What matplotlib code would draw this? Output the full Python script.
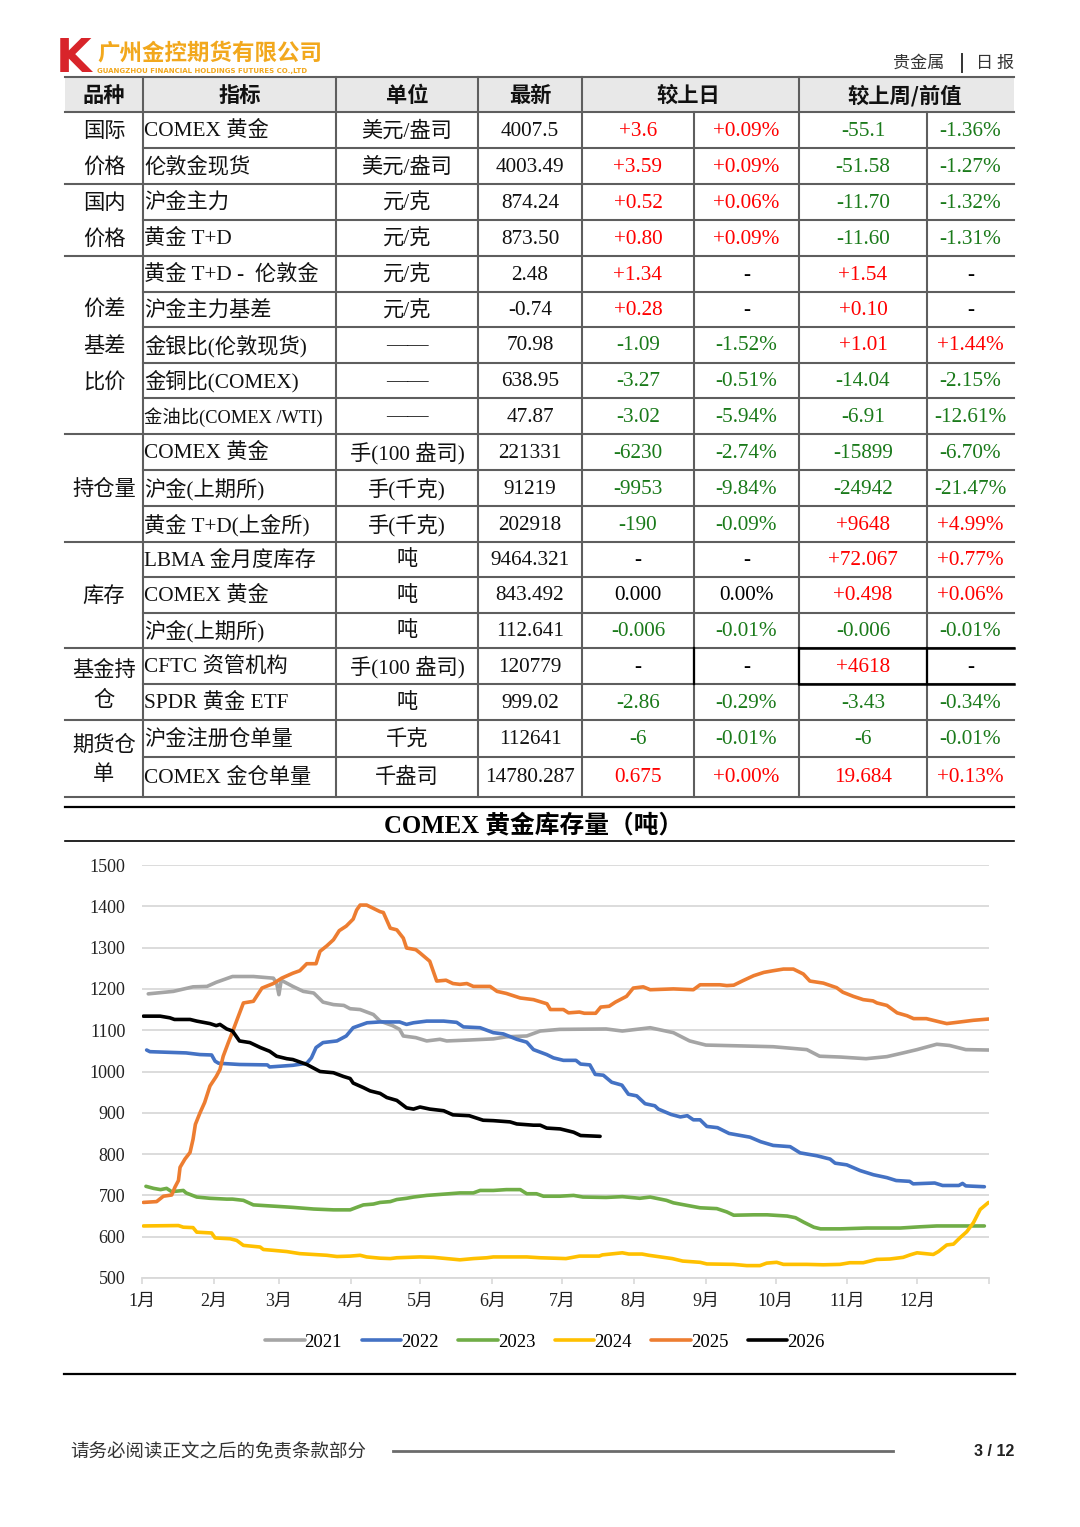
import matplotlib
matplotlib.use('Agg')
import matplotlib.pyplot as plt
from matplotlib.patches import Rectangle
from matplotlib.font_manager import FontProperties

# ---------------- data ----------------
header_cols = ["品种", "指标", "单位", "最新", "较上日", "较上周/前值"]
group_lines = [["国际", "价格"], ["国内", "价格"], ["价差", "基差", "比价"], ["持仓量"],
               ["库存"], ["基金持", "仓"], ["期货仓", "单"]]
group_sizes = [2, 2, 5, 3, 3, 2, 2]
indicators = ["COMEX 黄金", "伦敦金现货", "沪金主力", "黄金 T+D", "黄金 T+D -  伦敦金", "沪金主力基差",
              "金银比(伦敦现货)", "金铜比(COMEX)", "金油比(COMEX /WTI)", "COMEX 黄金", "沪金(上期所)",
              "黄金 T+D(上金所)", "LBMA 金月度库存", "COMEX 黄金", "沪金(上期所)", "CFTC 资管机构",
              "SPDR 黄金 ETF", "沪金注册仓单量", "COMEX 金仓单量"]
units = ["美元/盎司", "美元/盎司", "元/克", "元/克", "元/克", "元/克", "——", "——", "——",
         "手(100 盎司)", "手(千克)", "手(千克)", "吨", "吨", "吨", "手(100 盎司)", "吨", "千克", "千盎司"]
latest = ["4007.5", "4003.49", "874.24", "873.50", "2.48", "-0.74", "70.98", "638.95", "47.87",
          "221331", "91219", "202918", "9464.321", "843.492", "112.641", "120779", "999.02",
          "112641", "14780.287"]
day_chg = ["+3.6", "+3.59", "+0.52", "+0.80", "+1.34", "+0.28", "-1.09", "-3.27", "-3.02",
           "-6230", "-9953", "-190", "-", "0.000", "-0.006", "-", "-2.86", "-6", "0.675"]
day_pct = ["+0.09%", "+0.09%", "+0.06%", "+0.09%", "-", "-", "-1.52%", "-0.51%", "-5.94%",
           "-2.74%", "-9.84%", "-0.09%", "-", "0.00%", "-0.01%", "-", "-0.29%", "-0.01%", "+0.00%"]
week_chg = ["-55.1", "-51.58", "-11.70", "-11.60", "+1.54", "+0.10", "+1.01", "-14.04", "-6.91",
            "-15899", "-24942", "+9648", "+72.067", "+0.498", "-0.006", "+4618", "-3.43", "-6", "19.684"]
week_pct = ["-1.36%", "-1.27%", "-1.32%", "-1.31%", "-", "-", "+1.44%", "-2.15%", "-12.61%",
            "-6.70%", "-21.47%", "+4.99%", "+0.77%", "+0.06%", "-0.01%", "-", "-0.34%", "-0.01%", "+0.13%"]

chart_title = "COMEX 黄金库存量（吨）"
month_labels = ["1月", "2月", "3月", "4月", "5月", "6月", "7月", "8月", "9月", "10月", "11月", "12月", ""]
month_days = [0, 31, 59, 90, 120, 151, 181, 212, 243, 273, 304, 334, 365]
y_ticks = [500, 600, 700, 800, 900, 1000, 1100, 1200, 1300, 1400, 1500]

# (day of year, tonnes)
s2021 = [(2.7,1188),(13.5,1194),(22,1205),(28,1206),(32,1216),(39,1230),(48,1230),(56.6,1226),(58,1214),
         (59,1186),(60,1221),(65,1206),(69.5,1194),(74,1190),(78,1168),(82.5,1162),(87,1160),(89.7,1152),
         (94,1150),(99.7,1138),(102.6,1122),(108,1111),(111,1102),(112.6,1086),(118,1082),(122.7,1074),
         (128.4,1078),(131.3,1074),(140,1076),(151.4,1079),(157,1084),(165.8,1086),(171.6,1098),(180,1102),
         (200,1103),(207,1098),(219,1106),(229,1094),(236,1074),(243,1064),(258,1062),(272,1060),
         (286.5,1053),(292,1037),(301,1035),(312,1031),(321,1036),(328,1045),(334,1053),(342.5,1066),
         (348,1063),(355,1053),(365,1052)]
s2022 = [(2,1052),(3.4,1048),(19,1045),(25,1041),(30,1040),(31.5,1025),(33,1020),(42,1017),(54,1016),
         (55,1011),(65,1015),(71,1020),(73,1033),(75,1058),(78,1070),(84,1074),(88,1086),(91,1106),
         (97,1118),(102.6,1120),(111,1120),(114,1114),(117,1118),(122.7,1122),(130,1122),(135.6,1119),
         (138.5,1108),(145.7,1106),(151.4,1094),(155.7,1091),(161.5,1078),(165.8,1071),(168.7,1053),
         (174.4,1041),(177.3,1033),(181.6,1027),(187,1027),(189,1018),(193,1016),(195.3,993),(198.8,991),
         (202.4,974),(206.8,967),(209.6,945),(213.2,941),(216.8,922),(221,917),(222.5,909),(228,896),
         (232,890),(235,893),(237.6,883),(240.5,883),(243.4,867),(248,864),(253,850),(262,841),
         (266.6,830),(272,821),(279.3,818),(283.6,803),(290.8,796),(296.5,788),(298.7,778),(303.7,774),
         (309.5,760),(315.2,750),(321,743),(325,736),(330.8,734),(332.3,728),(341.6,730),(345,724),
         (352,724),(353.6,729),(355,723),(363,721)]
s2023 = [(1.7,722),(5,717),(8,714),(10.6,717),(12.8,709),(17.8,712),(19,706),(23.6,696),(29.3,693),
         (36.5,691),(39,691),(43.7,688),(48,677),(53.7,675),(59.5,673),(65,671),(74,667),(82.5,665),
         (89.7,665),(92.5,671),(95.4,677),(99.7,679),(102.6,683),(107,685),(109.8,690),(114,693),
         (117,696),(122.7,700),(130,703),(137,706),(142.8,706),(145.7,712),(151.4,712),(157,714),
         (163,714),(165.8,704),(170,704),(173,698),(180,698),(186,700),(190,696),(200,695),(207,697),
         (214.5,693),(219,696),(226,688),(229,682),(234.7,676),(240.5,670),(247.7,668),(252,660),
         (255,652),(263.6,653),(269.4,653),(278,650),(281.6,646),(285.2,635),(289.5,623),(292.4,619),
         (301,619),(312.4,621),(326.8,621),(335.4,624),(342.5,626),(363,626)]
s2024 = [(0.6,626),(15.7,627),(17.8,623),(22,622),(23.6,611),(30,609),(31.5,597),(38,595),(40.8,591),
         (43.7,579),(50.9,575),(52.3,569),(56.6,567),(62.4,564),(68,559),(76.7,556),(79.6,555),(84,552),
         (89.7,553),(94,555),(96.8,551),(102.6,548),(107,547),(109.8,549),(119.8,551),(125.6,550),
         (131.3,547),(137,544),(142.8,547),(148.6,549),(151.4,551),(165.8,551),(171.6,549),(182.7,547),
         (188.5,553),(197,553),(198.4,556),(207,561),(209.8,558),(215.5,558),(218.4,555),(228.5,547),
         (233,541),(240.5,538),(243.4,534),(254.8,533),(260.6,530),(266.3,530),(269.2,536),(273.5,538),
         (276.4,533),(286.5,533),(293.6,532),(300.8,533),(305,537),(310.8,537),(316.6,545),(322.3,546),
         (328,550),(331,556),(334,561),(341,557),(343.2,564),(346.8,580),(349.7,582),(352.6,598),
         (355.4,612),(358.3,634),(361.2,666),(364.8,683)]
s2025 = [(0.6,683),(6.3,685),(9.2,698),(12.8,701),(14.2,720),(15.7,736),(16.4,768),(18.5,788),(20.7,804),
         (22,836),(23,872),(25,900),(27,925),(29.3,965),(32,988),(33.6,1005),(35,1037),(37.2,1070),
         (38.6,1090),(41,1126),(43.7,1166),(48,1170),(51.7,1202),(56.6,1213),(60.2,1226),(65,1238),
         (68,1244),(71,1261),(75,1261),(76.7,1291),(79.6,1304),(82.5,1319),(85,1341),(88,1352),(91,1369),
         (92.5,1391),(94,1403),(96.8,1403),(99.7,1395),(102.6,1387),(104,1385),(107,1347),(109.8,1343),
         (112.6,1323),(114,1299),(118,1295),(119.8,1287),(124,1267),(127,1219),(131,1221),(134,1213),
         (137,1211),(140,1213),(142.8,1206),(150,1206),(153,1194),(157,1189),(163,1178),(168.7,1174),
         (174.5,1164),(176,1150),(181.6,1150),(183.8,1142),(188.5,1144),(190.6,1141),(195.5,1141),
         (197.7,1156),(201.3,1158),(204,1168),(208.8,1182),(211.7,1202),(216,1205),(219,1198),(229,1200),
         (237.6,1198),(240.5,1210),(249,1210),(252,1208),(255,1209),(259,1220),(263.6,1232),(268,1240),
         (272,1244),(276.4,1248),(280.7,1248),(285,1236),(287.8,1219),(293.6,1214),(299.3,1203),
         (302,1192),(306.5,1182),(310.8,1174),(315,1171),(316.7,1166),(321,1160),(325.4,1142),
         (329.7,1135),(332.5,1128),(338,1128),(343.8,1120),(346.8,1116),(352.6,1120),(358.3,1124),
         (364.8,1127)]
s2026 = [(0.6,1134),(7.8,1134),(12,1130),(14,1126),(20.7,1126),(23.6,1122),(29.3,1116),(32,1111),
         (33.6,1114),(36.5,1103),(39,1098),(42,1074),(46.5,1070),(51,1058),(55,1049),(58,1037),
         (62.4,1031),(65,1029),(71,1017),(76.7,1000),(82.5,997),(86.8,988),(89.7,983),(91,972),
         (95.4,961),(98.3,953),(102.6,947),(105.5,937),(109.8,930),(114,912),(117,909),(119.8,914),
         (124,909),(130,905),(134,895),(141,893),(147,882),(151.4,881),(158.6,878),(161.5,873),
         (168.7,870),(171.6,870),(174.4,863),(180.2,861),(186,853),(189,845),(197.4,843)]

series_names = ["2021", "2022", "2023", "2024", "2025", "2026"]
series_data = [s2021, s2022, s2023, s2024, s2025, s2026]
series_colors = ["#a5a5a5", "#4472c4", "#70ad47", "#ffc000", "#ed7d31", "#000000"]

# ---------------- layout ----------------
W, H = 1080, 1527
fig = plt.figure(figsize=(W / 100, H / 100), dpi=100)
ov = fig.add_axes([0, 0, 1, 1])
ov.set_xlim(0, W)
ov.set_ylim(H, 0)
ov.axis('off')

SERIF_CJK = ['Liberation Serif', 'Noto Sans CJK SC']
CJK = ['Noto Sans CJK SC', 'DejaVu Sans']
RED = '#ff0000'
GREEN = '#1a7a1a'
FS = 15.3
indicator_fs = {8: 13.2}

# logo / header
ov.text(56, 60, 'K', fontsize=33, fontweight='bold', color='#d8242a', family='DejaVu Sans',
        ha='left', va='center')
ov.text(97, 53, '广州金控期货有限公司', fontsize=16.2, fontweight='bold', color='#f2a81d',
        family=CJK, ha='left', va='center')
ov.text(97, 71.5, 'GUANGZHOU FINANCIAL HOLDINGS FUTURES CO.,LTD', fontsize=5.0, fontweight='bold',
        color='#f2a81d', family='DejaVu Sans', ha='left', va='center')
ov.text(893, 63, '贵金属', fontsize=12.3, color='#333333', family=CJK, ha='left', va='center')
ov.plot([962, 962], [54, 72], color='#333333', lw=1.4)
ov.text(1014, 63, '日 报', fontsize=12.3, color='#333333', family=CJK, ha='right', va='center')

# table geometry
X0, X1 = 65, 1014
col_x = [65, 143, 336, 478, 582, 694, 799, 927, 1014]
TOP, HB = 77, 112
edges = [112, 148, 184, 220, 256, 292, 327, 363, 398, 434, 470, 506, 542, 577, 613, 648, 684, 720, 757, 797]
LC, LW = '#5e5e5e', 1.5

ov.add_patch(Rectangle((X0, TOP), X1 - X0, HB - TOP, facecolor='#e8e8e8', edgecolor='none'))
ov.plot([X0, X1], [TOP, TOP], color=LC, lw=LW)
ov.plot([X0, X1], [HB, HB], color=LC, lw=LW)

group_bounds = set()
acc = 0
for g in group_sizes:
    acc += g
    group_bounds.add(acc)
for i in range(1, len(edges)):
    x_start = X0 if i in group_bounds else col_x[1]
    ov.plot([x_start, X1], [edges[i], edges[i]], color=LC, lw=LW)
for x in [143, 336, 478, 582, 799]:
    ov.plot([x, x], [TOP, edges[-1]], color=LC, lw=LW)
for x in [694, 927]:
    ov.plot([x, x], [HB, edges[-1]], color=LC, lw=LW)

# CFTC highlighted cell borders
r = 15
ov.plot([799, X1], [edges[r], edges[r]], color='black', lw=1.8)
ov.plot([799, X1], [edges[r + 1], edges[r + 1]], color='black', lw=1.8)
for x in [694, 799, 927]:
    ov.plot([x, x], [edges[r], edges[r + 1]], color='black', lw=1.6)

# header text
hcent = [(65 + 143) / 2, (143 + 336) / 2, (336 + 478) / 2, (478 + 582) / 2, (582 + 799) / 2 - 2,
         (799 + 1014) / 2 - 2]
for txt, cx in zip(header_cols, hcent):
    ov.text(cx, (TOP + HB) / 2 + 1, txt, fontsize=FS, fontweight='bold', family=CJK,
            ha='center', va='center', color='#111111')

# group labels
spacing = [36, 36, 36, 36, 36, 30, 30]
start = 0
for lines, n, sp in zip(group_lines, group_sizes, spacing):
    yc = (edges[start] + edges[start + n]) / 2
    k = len(lines)
    for j, t in enumerate(lines):
        yy = yc + (j - (k - 1) / 2) * sp
        ov.text(104, yy + 1, t, fontsize=FS, family=CJK, ha='center', va='center', color='#111111')
    start += n


def vcolor(s):
    if s.startswith('+'):
        return RED
    if s == '-':
        return 'black'
    if s.startswith('-'):
        return GREEN
    try:
        v = float(s.replace('%', ''))
    except ValueError:
        return 'black'
    return RED if v > 0 else 'black'


ccent = [(c0 + c1) / 2 for c0, c1 in zip(col_x[:-1], col_x[1:])]
for i in range(len(indicators)):
    yc = (edges[i] + edges[i + 1]) / 2 + 1
    ov.text(144, yc, indicators[i], fontsize=indicator_fs.get(i, FS), family=SERIF_CJK, ha='left',
            va='center', color='#111111')
    ov.text(ccent[2], yc, units[i], fontsize=FS, family=SERIF_CJK, ha='center', va='center', color='#111111')
    ov.text(ccent[3], yc, latest[i], fontsize=FS, family=SERIF_CJK, ha='center', va='center', color='#111111')
    for col, arr in zip([4, 5, 6, 7], [day_chg, day_pct, week_chg, week_pct]):
        s = arr[i]
        ov.text(ccent[col], yc, s, fontsize=FS, family=SERIF_CJK, ha='center', va='center', color=vcolor(s))

# chart title block
ov.plot([X0, X1], [807, 807], color='black', lw=1.6)
ov.plot([X0, X1], [841, 841], color='black', lw=1.2)
ov.text(534, 825, chart_title, fontsize=17.8, fontweight='bold', family=SERIF_CJK, ha='center',
        va='center', color='black')

# bottom rule and footer
ov.plot([64, 1015], [1374, 1374], color='black', lw=1.6)
ov.text(70, 1452, '请务必阅读正文之后的免责条款部分', fontsize=13.3, family=CJK, ha='left',
        va='center', color='#333333')
ov.plot([393, 893], [1451, 1451], color='#6b6b6b', lw=2.0)
ov.text(1014, 1451, '3 / 12', fontsize=11.5, fontweight='bold', family='Liberation Sans',
        ha='right', va='center', color='#222222')

# ---------------- chart ----------------
ax = fig.add_axes([142 / W, 1 - 1278 / H, (989 - 142) / W, (1278 - 865) / H])
ax.set_facecolor('none')
for name, data, col in zip(series_names, series_data, series_colors):
    xs = [p[0] for p in data]
    ys = [p[1] for p in data]
    ax.plot(xs, ys, color=col, lw=2.6, label=name, solid_joinstyle='round', solid_capstyle='round')

ax.set_xlim(0, 365)
ax.set_ylim(500, 1500)
ax.set_yticks(y_ticks)
ax.set_yticklabels([str(v) for v in y_ticks])
ax.grid(axis='y', color='#d9d9d9', lw=1.3)
ax.set_axisbelow(True)
ax.set_xticks(month_days)
ax.set_xticklabels(month_labels)
for sp in ['top', 'right', 'left']:
    ax.spines[sp].set_visible(False)
ax.spines['bottom'].set_color('#d9d9d9')
ax.spines['bottom'].set_linewidth(1.3)
ax.tick_params(axis='y', length=0, pad=12, labelsize=13, labelcolor='#222222')
ax.tick_params(axis='x', length=4.5, width=1.2, color='#d9d9d9', pad=6, labelsize=13,
               labelcolor='#222222')
for lab in ax.get_yticklabels():
    lab.set_family('Liberation Serif')
for lab in ax.get_xticklabels():
    lab.set_family(SERIF_CJK)

handles, labels = ax.get_legend_handles_labels()
fig.legend(handles, labels, loc='center', bbox_to_anchor=(545 / W, 1 - 1342 / H), ncol=6,
           frameon=False, handlelength=2.1, handletextpad=0.0, columnspacing=1.05,
           prop=FontProperties(family='Liberation Serif', size=13.5))

fig.savefig('out.png', dpi=100, facecolor='white')
